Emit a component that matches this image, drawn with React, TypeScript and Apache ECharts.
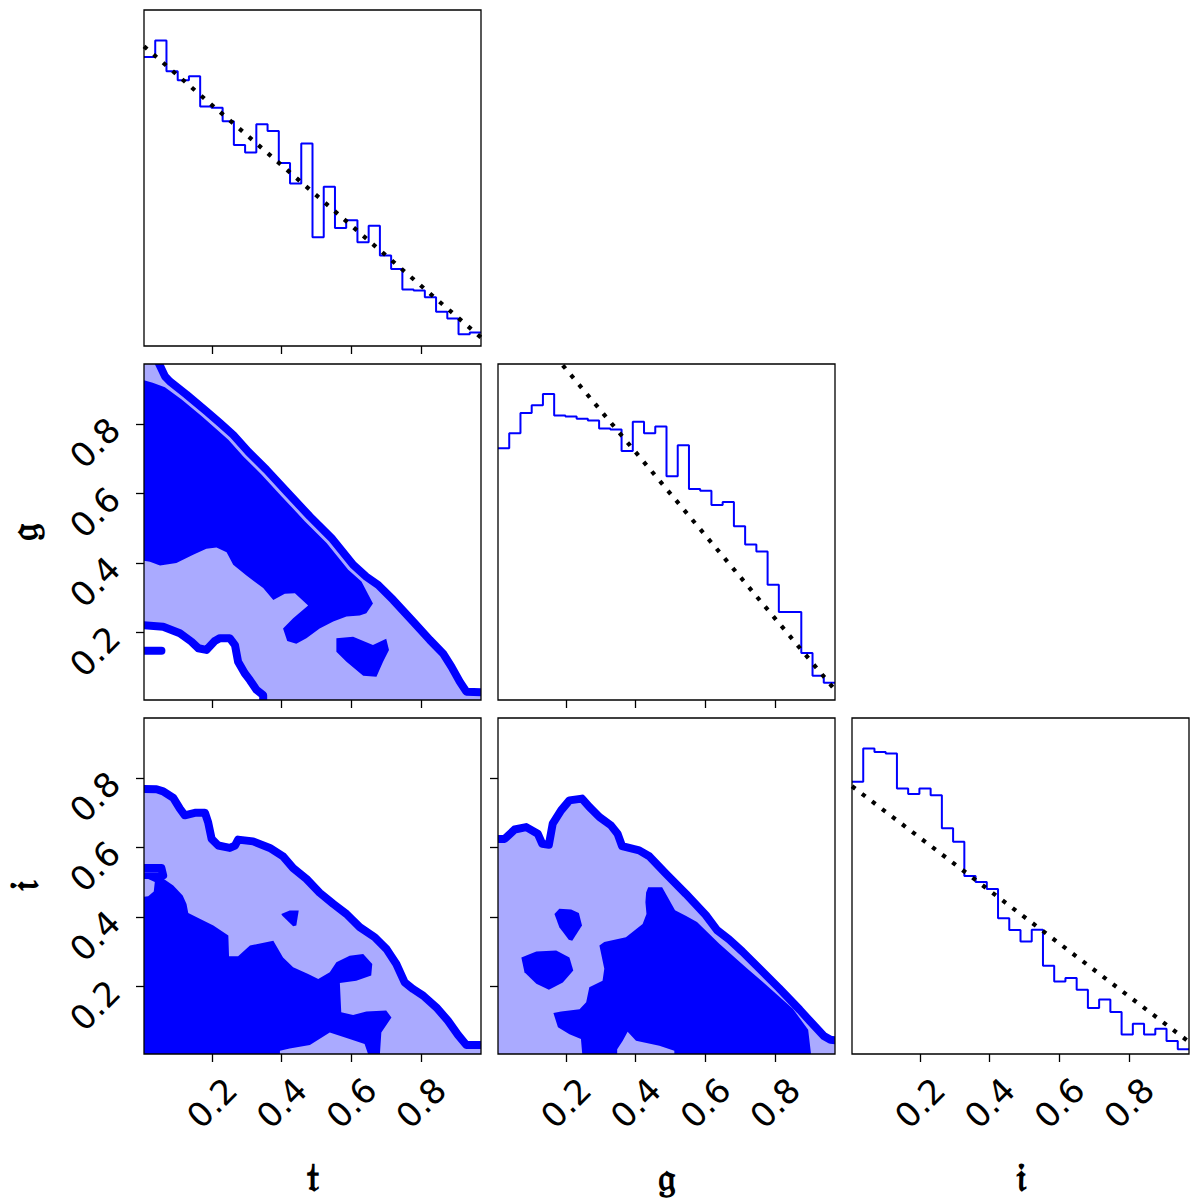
import React, { useEffect, useRef } from "react";
import * as echarts from "echarts";

// ---------- axis / tick data ----------
const AX_MIN = 0.005;
const AX_MAX = 0.972;
const TICKS = [0.2, 0.4, 0.6, 0.8];
const N_BINS = 30;
const PARAM_NAMES = ["𝔱", "𝔤", "𝔦"];

// ---------- 1D histograms (relative density, arbitrary units 0-100) ----------
const histT = [86.0, 90.9, 81.8, 79.1, 80.3, 71.3, 70.9, 66.9, 59.8, 57.6, 66.0, 64.0, 54.5, 48.4, 60.3, 32.4, 47.4, 35.1, 37.4, 30.9, 35.8, 26.9, 22.9, 16.8, 16.5, 14.5, 10.2, 8.2, 3.5, 4.0];
const histG = [74.9, 79.4, 85.4, 87.7, 91.1, 84.7, 84.4, 83.7, 83.2, 80.8, 80.5, 74.1, 82.8, 79.4, 81.4, 66.6, 75.8, 62.8, 62.3, 58.0, 58.9, 51.7, 46.3, 44.2, 34.3, 26.2, 26.2, 14.0, 7.2, 5.1];
const histI = [81.0, 90.9, 89.9, 89.4, 79.0, 77.4, 79.0, 77.0, 67.2, 63.2, 53.0, 51.2, 49.1, 40.4, 36.9, 33.5, 37.0, 26.3, 21.6, 22.6, 19.1, 13.7, 16.2, 12.5, 5.8, 9.0, 5.8, 7.5, 3.9, 1.4];

// prior (dotted) lines: two end points each
const priorT = [[0.005, 89.2], [0.972, 2.5]];
const priorG = [[0.005, 122.6], [0.972, 3.0]];
const priorI = [[0.005, 79.7], [0.972, 3.6]];

// ---------- 2D contours: t vs g ----------
const tgUpper = [[0.040, 0.99], [0.065, 0.937], [0.079, 0.922], [0.127, 0.884], [0.184, 0.836], [0.223, 0.802], [0.261, 0.768], [0.304, 0.720], [0.356, 0.668], [0.414, 0.605], [0.481, 0.533], [0.543, 0.471], [0.605, 0.394], [0.643, 0.360], [0.677, 0.336], [0.720, 0.293], [0.777, 0.231], [0.825, 0.178], [0.863, 0.139], [0.887, 0.101], [0.911, 0.058], [0.930, 0.029], [0.99, 0.027]];
const tgLower = [[-0.01, 0.221], [0.060, 0.216], [0.108, 0.197], [0.141, 0.173], [0.161, 0.154], [0.184, 0.149], [0.208, 0.175], [0.223, 0.183], [0.251, 0.183], [0.266, 0.163], [0.275, 0.115], [0.294, 0.082], [0.309, 0.062], [0.328, 0.034], [0.347, 0.019], [0.347, -0.01]];
const tgStub = [[-0.01, 0.147], [0.055, 0.147]];
const tgDark = [[-0.01, 0.93], [0.030, 0.918], [0.065, 0.905], [0.113, 0.870], [0.170, 0.822], [0.209, 0.788], [0.247, 0.754], [0.290, 0.706], [0.342, 0.654], [0.400, 0.591], [0.467, 0.519], [0.529, 0.457], [0.591, 0.380], [0.629, 0.346], [0.662, 0.283], [0.643, 0.255], [0.624, 0.248], [0.586, 0.245], [0.548, 0.231], [0.509, 0.211], [0.471, 0.183], [0.442, 0.167], [0.416, 0.175], [0.404, 0.211], [0.433, 0.240], [0.476, 0.277], [0.438, 0.312], [0.409, 0.311], [0.376, 0.293], [0.347, 0.327], [0.299, 0.363], [0.261, 0.394], [0.242, 0.430], [0.213, 0.444], [0.184, 0.440], [0.146, 0.423], [0.098, 0.399], [0.051, 0.392], [0.022, 0.403], [-0.01, 0.408]];
const tgIsland = [[0.557, 0.183], [0.605, 0.187], [0.662, 0.163], [0.700, 0.181], [0.708, 0.149], [0.691, 0.115], [0.672, 0.072], [0.634, 0.075], [0.586, 0.115], [0.557, 0.144]];

// ---------- 2D contours: t vs i ----------
const tiOuter = [[-0.01, 0.768], [0.041, 0.767], [0.060, 0.761], [0.089, 0.742], [0.108, 0.711], [0.122, 0.692], [0.151, 0.699], [0.180, 0.699], [0.189, 0.672], [0.199, 0.624], [0.218, 0.605], [0.251, 0.598], [0.266, 0.605], [0.275, 0.622], [0.318, 0.617], [0.366, 0.598], [0.404, 0.574], [0.433, 0.540], [0.471, 0.509], [0.509, 0.469], [0.548, 0.437], [0.586, 0.408], [0.624, 0.370], [0.667, 0.341], [0.701, 0.307], [0.729, 0.264], [0.753, 0.211], [0.777, 0.192], [0.806, 0.173], [0.844, 0.139], [0.877, 0.101], [0.906, 0.060], [0.930, 0.031], [0.99, 0.031]];
const tiStub = [[-0.01, 0.540], [0.055, 0.540], [0.060, 0.519]];
const tiDark = [[-0.01, 0.528], [0.055, 0.528], [0.062, 0.509], [0.089, 0.490], [0.116, 0.461], [0.127, 0.437], [0.132, 0.411], [0.165, 0.394], [0.204, 0.375], [0.247, 0.346], [0.249, 0.286], [0.275, 0.286], [0.309, 0.317], [0.376, 0.331], [0.404, 0.283], [0.433, 0.255], [0.476, 0.235], [0.505, 0.221], [0.538, 0.240], [0.557, 0.269], [0.595, 0.288], [0.634, 0.293], [0.660, 0.264], [0.657, 0.231], [0.614, 0.216], [0.567, 0.209], [0.571, 0.125], [0.605, 0.117], [0.643, 0.127], [0.700, 0.130], [0.715, 0.110], [0.686, 0.067], [0.681, -0.01], [0.653, -0.01], [0.638, 0.034], [0.595, 0.048], [0.538, 0.067], [0.481, 0.031], [0.423, 0.021], [0.395, 0.014], [0.395, -0.01], [-0.01, -0.01], [-0.01, 0.456], [0.017, 0.459], [0.033, 0.473], [0.036, 0.500], [0.017, 0.509], [-0.01, 0.509]];
const tiIsland = [[0.399, 0.408], [0.423, 0.418], [0.449, 0.418], [0.442, 0.375], [0.433, 0.373], [0.402, 0.403]];

// ---------- 2D contours: g vs i ----------
const giOuter = [[-0.01, 0.624], [0.024, 0.624], [0.053, 0.651], [0.086, 0.658], [0.119, 0.639], [0.132, 0.610], [0.151, 0.607], [0.162, 0.668], [0.186, 0.706], [0.210, 0.735], [0.246, 0.740], [0.267, 0.716], [0.296, 0.687], [0.329, 0.663], [0.348, 0.639], [0.361, 0.603], [0.410, 0.591], [0.439, 0.574], [0.487, 0.524], [0.544, 0.466], [0.601, 0.405], [0.633, 0.362], [0.668, 0.335], [0.706, 0.300], [0.768, 0.238], [0.811, 0.195], [0.871, 0.132], [0.900, 0.100], [0.940, 0.057], [0.959, 0.046], [0.99, 0.043]];
const giIslandA = [[0.167, 0.408], [0.181, 0.423], [0.215, 0.421], [0.237, 0.411], [0.246, 0.375], [0.218, 0.331], [0.208, 0.334], [0.181, 0.370]];
const giIslandB = [[0.072, 0.283], [0.115, 0.300], [0.172, 0.303], [0.210, 0.283], [0.221, 0.245], [0.191, 0.211], [0.151, 0.190], [0.115, 0.207], [0.081, 0.240]];
const giDark = [[0.430, 0.470], [0.436, 0.485], [0.476, 0.485], [0.513, 0.419], [0.545, 0.402], [0.576, 0.385], [0.640, 0.322], [0.719, 0.252], [0.765, 0.212], [0.851, 0.135], [0.895, 0.075], [0.905, -0.01], [0.511, -0.01], [0.511, 0.014], [0.468, 0.029], [0.401, 0.043], [0.377, 0.069], [0.363, 0.043], [0.347, 0.019], [0.347, -0.01], [0.248, -0.01], [0.243, 0.048], [0.210, 0.062], [0.177, 0.082], [0.164, 0.123], [0.186, 0.127], [0.239, 0.134], [0.258, 0.154], [0.267, 0.197], [0.305, 0.216], [0.310, 0.250], [0.296, 0.317], [0.310, 0.327], [0.372, 0.341], [0.420, 0.379], [0.431, 0.408], [0.428, 0.442]];

// ---------- styles ----------
const DARK = "#0000ff";
const LIGHT = "#aaaaff";
const COLS = [144, 498, 852];
const ROWS = [10, 364, 718];
const PW = 337;
const PH = 336;

type Panel = { r: number; c: number; hist: boolean };
const PANELS: Panel[] = [
  { r: 0, c: 0, hist: true },
  { r: 1, c: 0, hist: false },
  { r: 1, c: 1, hist: true },
  { r: 2, c: 0, hist: false },
  { r: 2, c: 1, hist: false },
  { r: 2, c: 2, hist: true },
];

const binEdges = (): number[] => {
  const w = (AX_MAX - AX_MIN) / N_BINS;
  const out: number[] = [];
  for (let k = 0; k <= N_BINS; k++) out.push(AX_MIN + k * w);
  return out;
};

function histSeries(gi: number, vals: number[]) {
  const e = binEdges();
  const data = vals.map((v, k) => [e[k], v]);
  data.push([e[N_BINS], vals[vals.length - 1]]);
  return {
    type: "line", xAxisIndex: gi, yAxisIndex: gi, step: "end", symbol: "none",
    data, lineStyle: { color: DARK, width: 2 }, z: 3,
  };
}

function priorSeries(gi: number, pts: number[][]) {
  return {
    type: "line", xAxisIndex: gi, yAxisIndex: gi, symbol: "none", data: pts,
    lineStyle: { color: "#000", width: 4.2, type: [4.2, 8.4], cap: "butt" }, z: 4,
  };
}

function fillSeries(gi: number, pts: number[][], color: string) {
  return {
    type: "custom", xAxisIndex: gi, yAxisIndex: gi, clip: true, silent: true,
    data: [pts[0]],
    renderItem: (_p: any, api: any) => ({
      type: "polygon",
      shape: { points: pts.map((p) => api.coord(p)) },
      style: { fill: color },
    }),
  };
}

function strokeSeries(gi: number, pts: number[][]) {
  return {
    type: "custom", xAxisIndex: gi, yAxisIndex: gi, clip: true, silent: true,
    data: [pts[0]],
    renderItem: (_p: any, api: any) => ({
      type: "polyline",
      shape: { points: pts.map((p) => api.coord(p)) },
      style: { stroke: DARK, lineWidth: 8, lineJoin: "round", lineCap: "round", fill: null },
    }),
  };
}

const labelFont = { fontFamily: "'DejaVu Sans', sans-serif", fontSize: 34, color: "#000" };
const nameFont = { fontFamily: "'DejaVu Serif', serif", fontWeight: "bold", fontSize: 40, color: "#000" };

function buildOption() {
  const grid = PANELS.map((p) => ({
    left: COLS[p.c], top: ROWS[p.r], width: PW, height: PH,
    show: true, borderColor: "#000", borderWidth: 1.3, backgroundColor: "transparent", z: 5,
  }));
  const xAxis = PANELS.map((p, i) => ({
    gridIndex: i, type: "value", min: AX_MIN, max: AX_MAX,
    axisLine: { show: false }, splitLine: { show: false },
    axisTick: { show: true, customValues: TICKS, length: 8, lineStyle: { color: "#000", width: 1.3 } },
    axisLabel: {
      show: p.r === 2, customValues: TICKS, rotate: 45, align: "center", verticalAlign: "middle",
      margin: 49, ...labelFont, formatter: (v: number) => v.toFixed(1),
    },
    name: p.r === 2 ? PARAM_NAMES[p.c] : "", nameLocation: "middle", nameGap: 122,
    nameTextStyle: { ...nameFont, verticalAlign: "middle" },
  }));
  const yAxis = PANELS.map((p, i) =>
    p.hist
      ? {
          gridIndex: i, type: "value", min: 0, max: 100,
          axisLine: { show: false }, splitLine: { show: false },
          axisTick: { show: false }, axisLabel: { show: false },
        }
      : {
          gridIndex: i, type: "value", min: AX_MIN, max: AX_MAX,
          axisLine: { show: false }, splitLine: { show: false },
          axisTick: { show: true, customValues: TICKS, length: 8, lineStyle: { color: "#000", width: 1.3 } },
          axisLabel: {
            show: p.c === 0, customValues: TICKS, rotate: 45, margin: 30, ...labelFont,
            formatter: (v: number) => v.toFixed(1),
          },
          name: p.c === 0 ? PARAM_NAMES[p.r] : "", nameLocation: "middle", nameGap: 121,
          nameTextStyle: { ...nameFont, verticalAlign: "middle" },
        }
  );

  const tgLight = [...tgUpper, [0.99, -0.01], ...tgLower.slice().reverse(), [-0.01, 0.99]];
  const tiLight = [...tiOuter, [0.99, -0.01], [-0.01, -0.01]];
  const giLight = [...giOuter, [0.99, -0.01], [-0.01, -0.01]];

  const series: any[] = [
    histSeries(0, histT), priorSeries(0, priorT),
    fillSeries(1, tgLight, LIGHT), fillSeries(1, tgDark, DARK), fillSeries(1, tgIsland, DARK),
    strokeSeries(1, tgUpper), strokeSeries(1, tgLower), strokeSeries(1, tgStub),
    histSeries(2, histG), priorSeries(2, priorG),
    fillSeries(3, tiLight, LIGHT), fillSeries(3, tiDark, DARK), fillSeries(3, tiIsland, DARK),
    strokeSeries(3, tiOuter), strokeSeries(3, tiStub),
    fillSeries(4, giLight, LIGHT), fillSeries(4, giDark, DARK), fillSeries(4, giIslandA, DARK), fillSeries(4, giIslandB, DARK),
    strokeSeries(4, giOuter),
    histSeries(5, histI), priorSeries(5, priorI),
  ];

  return { animation: false, backgroundColor: "#fff", grid, xAxis, yAxis, series };
}

export default function App() {
  const ref = useRef<HTMLDivElement>(null);
  useEffect(() => {
    document.body.style.margin = "0";
    const chart = echarts.init(ref.current!, null, { renderer: "svg" });
    chart.setOption(buildOption() as any);
    return () => chart.dispose();
  }, []);
  return <div ref={ref} style={{ width: 1200, height: 1199 }} />;
}
